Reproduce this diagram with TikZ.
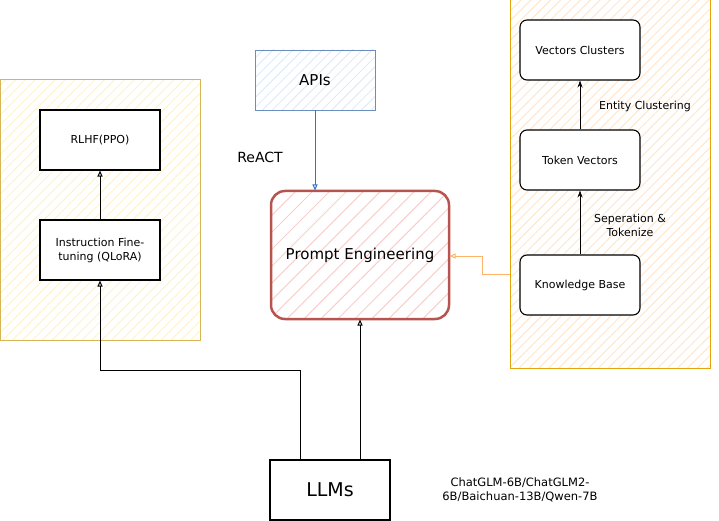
\documentclass[tikz,border=0pt]{standalone}
\usepackage{fontspec}
\setmainfont{DejaVu Sans}
\usetikzlibrary{patterns.meta,arrows.meta,positioning}
\definecolor{ylstroke}{HTML}{D6B656}
\definecolor{ylhatch}{HTML}{FFF2CC}
\definecolor{orstroke}{HTML}{E5A50A}
\definecolor{orhatch}{HTML}{FFE6CC}
\definecolor{rdstroke}{HTML}{B85450}
\definecolor{rdhatch}{HTML}{F8CECC}
\definecolor{blstroke}{HTML}{6C8EBF}
\definecolor{blhatch}{HTML}{DAE8FC}
\definecolor{blarrow}{HTML}{2F74D0}
\definecolor{orarrow}{HTML}{FFB366}
\tikzset{
  box/.style={draw=black, line width=1.1pt, fill=white, minimum width=120pt, minimum height=60pt, align=center, font=\fontsize{11}{14}\selectfont, inner sep=2pt},
  rbox/.style={box, rounded corners=7pt},
  container/.style={draw=#1stroke, line width=1pt, pattern={Lines[angle=45,distance=7pt,line width=1pt]}, pattern color=#1hatch, inner sep=0pt},
  openarrow/.style={-{Triangle[open,length=6pt,width=5pt]}, line width=1pt},
  fillarrow/.style={-{Stealth[length=7pt,width=5pt]}, line width=0.8pt},
  lbl/.style={font=\fontsize{11}{14}\selectfont, align=center},
}
\begin{document}
\begin{tikzpicture}[x=1pt,y=-1pt]
\useasboundingbox (0,0) rectangle (719,521);
% containers
\node[container=yl, minimum width=200pt, minimum height=260pt] (lc) at (100,210) {};
\node[container=or, minimum width=200pt, minimum height=368pt] (rc) at (610,184) {};
% left boxes
\node[box] (rlhf) at (100,140) {RLHF(PPO)};
\node[box] (ift) at (100,250) {Instruction Fine-\\tuning (QLoRA)};
% right boxes
\node[rbox] (vc) at (580,50) {Vectors Clusters};
\node[rbox] (tv) at (580,160) {Token Vectors};
\node[rbox] (kb) at (580,285) {Knowledge Base};
% center
\node[draw=blstroke, line width=0.8pt, pattern={Lines[angle=45,distance=7pt,line width=0.8pt]}, pattern color=blhatch, minimum width=120pt, minimum height=60pt, font=\fontsize{15}{17}\selectfont] (api) at (315,80) {APIs};
\node[draw=rdstroke, line width=2.5pt, rounded corners=14pt, pattern={Lines[angle=45,distance=12pt,line width=1pt]}, pattern color=rdhatch, minimum width=178pt, minimum height=128pt, font=\fontsize{15}{17}\selectfont] (pe) at (360,255) {Prompt Engineering};
\node[box, line width=1.2pt, font=\fontsize{19}{22}\selectfont] (llm) at (330,490) {LLMs};
% labels
\node[font=\fontsize{14}{16}\selectfont] (react) at (260,157) {ReACT};
\node[lbl] (ec) at (645,106) {Entity Clustering};
\node[lbl] (st) at (630,225) {Seperation \&\\Tokenize};
\node[lbl, font=\fontsize{11.5}{14}\selectfont] (models) at (520,490) {ChatGLM-6B/ChatGLM2-\\6B/Baichuan-13B/Qwen-7B};
% coordinates
\coordinate (l1) at (300,460);
\coordinate (l2) at (360,460);
% connectors
\draw[openarrow] (ift.north) -- (rlhf.south);
\draw[openarrow] (l1) -- (300,370) -- (100,370) -- (ift.south);
\draw[openarrow] (l2) -- (l2 |- pe.south);
\draw[openarrow, draw=blarrow, line width=1pt] (api.south) -- (pe.north -| api.south);
\draw[openarrow, draw=orarrow, line width=1pt] (rc.west |- 0,274) -- (482,274) -- (482,256) -- (pe.east |- 0,256);
\draw[fillarrow] (tv.north) -- (vc.south);
\draw[fillarrow] (kb.north) -- (tv.south);
\end{tikzpicture}
\end{document}
